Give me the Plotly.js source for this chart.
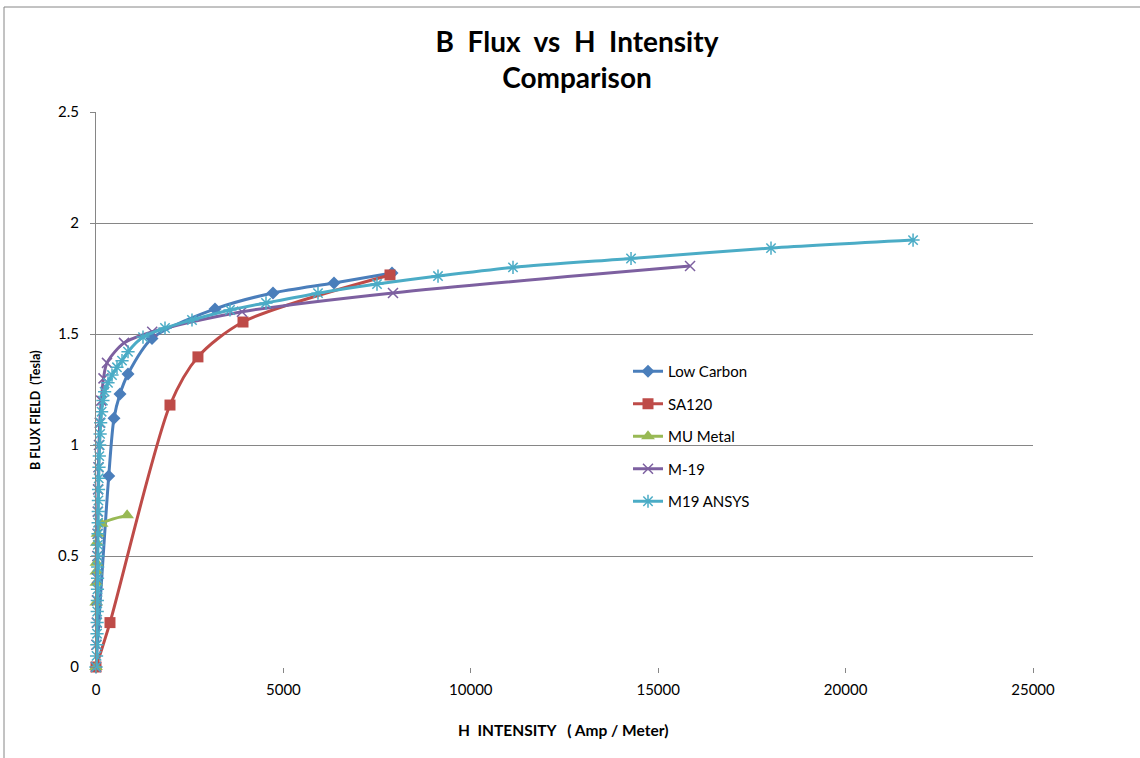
<!DOCTYPE html>
<html>
<head>
<meta charset="utf-8">
<script src="https://cdn.plot.ly/plotly-3.0.1.min.js"></script>
<style>html,body{margin:0;padding:0;background:#fff;}#chart{width:1140px;height:758px;}</style>
</head>
<body>
<div id="chart"></div>
<script>
// ---- Data ----
const lowCarbonH = [0, 340, 480, 640, 854, 1494, 3175, 4723, 6350, 7898];
const lowCarbonB = [0, 0.86, 1.12, 1.23, 1.32, 1.48, 1.613, 1.685, 1.73, 1.775];

const sa120H = [0, 373, 1974, 2720, 3922, 7844];
const sa120B = [0, 0.2, 1.18, 1.397, 1.554, 1.766];

const muMetalH = [0, 5, 8, 10, 12, 20, 40, 150, 830];
const muMetalB = [0, 0.29, 0.38, 0.43, 0.47, 0.56, 0.6, 0.645, 0.683];

const m19H = [0, 10, 20, 25, 30, 35, 40, 45, 55, 65, 80, 100, 140, 200, 293, 747, 1500, 3895, 7924, 15850];
const m19B = [0, 0.1, 0.2, 0.3, 0.4, 0.5, 0.6, 0.7, 0.8, 0.9, 1.0, 1.1, 1.2, 1.3, 1.37, 1.46, 1.51, 1.60, 1.685, 1.806];

const m19AnsysH = [0, 15, 22, 27, 30, 33, 36, 39, 42, 45, 48, 51, 54, 57, 60, 64, 68, 73, 80, 88, 98, 110, 125, 150, 185, 230, 320, 427, 560, 694, 854, 1254, 1841, 2561, 3575, 4536, 5923, 7497, 9125, 11126, 14275, 18010, 21800];
const m19AnsysB = [0, 0.05, 0.1, 0.15, 0.2, 0.25, 0.3, 0.35, 0.4, 0.45, 0.5, 0.55, 0.6, 0.65, 0.7, 0.75, 0.8, 0.85, 0.9, 0.95, 1.0, 1.05, 1.1, 1.15, 1.2, 1.24, 1.28, 1.315, 1.35, 1.38, 1.42, 1.486, 1.527, 1.563, 1.608, 1.64, 1.684, 1.725, 1.761, 1.80, 1.84, 1.887, 1.923];

const seriesNames = ['Low Carbon', 'SA120', 'MU Metal', 'M-19', 'M19 ANSYS'];
const yTickVals = [0, 0.5, 1, 1.5, 2, 2.5];
const yTickText = ['0', '0.5', '1', '1.5', '2', '2.5'];
const xTickVals = [0, 5000, 10000, 15000, 20000, 25000];

// ---- Layout helpers ----
const L = 96, R = 1033, T = 112, B = 667;
const px2x = p => (p - L) / (R - L);
const px2y = p => (B - p) / (B - T);
const FONT = 'Lato, "Open Sans", "Liberation Sans", sans-serif';

function trace(h, b, name, color, symbol, size, openMarker, group) {
  const marker = { symbol: symbol, size: size, color: color };
  if (openMarker) { marker.line = { color: color, width: 1.5 }; }
  else { marker.line = { width: 0 }; }
  return {
    x: h, y: b, name: name, type: 'scatter', mode: 'lines+markers',
    line: { color: color, width: 3, shape: 'spline', smoothing: 0.8 },
    marker: marker, legendgroup: group, cliponaxis: false
  };
}

const data = [
  trace(lowCarbonH, lowCarbonB, seriesNames[0], '#4A7EBB', 'diamond', 10, false, 'g1'),
  trace(sa120H, sa120B, seriesNames[1], '#BE4B48', 'square', 11, false, 'g2'),
  trace(muMetalH, muMetalB, seriesNames[2], '#98B954', 'triangle-up', 12, false, 'g3'),
  trace(m19H, m19B, seriesNames[3], '#7D60A0', 'x-thin-open', 10, true, 'g4'),
  trace(m19AnsysH, m19AnsysB, seriesNames[4], '#4BACC6', 'asterisk-open', 11, true, 'g5')
];

const layout = {
  width: 1140, height: 758,
  margin: { l: L, r: 1140 - R, t: T, b: 758 - B, pad: 0 },
  paper_bgcolor: '#ffffff', plot_bgcolor: '#ffffff',
  font: { family: FONT, size: 15, color: '#000000' },
  title: {
    text: 'B  Flux  vs  H  Intensity<br>Comparison',
    font: { family: FONT, size: 28, color: '#000000', weight: 'bold' },
    x: px2x(577), xref: 'paper', xanchor: 'center',
    y: 1 - 52 / 758, yref: 'container', yanchor: 'top'
  },
  xaxis: {
    range: [0, 25000], tickvals: xTickVals, ticktext: xTickVals.map(String),
    showgrid: false, zeroline: false, showline: false,
    ticks: 'outside', ticklen: 5, tickcolor: '#868686',
    ticklabelstandoff: 4,
    tickfont: { family: FONT, size: 15, color: '#000' }
  },
  yaxis: {
    range: [0, 2.5], tickvals: yTickVals, ticktext: yTickText,
    showgrid: true, gridcolor: '#868686', gridwidth: 1,
    zeroline: false, showline: true, linecolor: '#868686', linewidth: 1,
    ticks: 'outside', ticklen: 5, tickcolor: '#868686',
    ticklabelstandoff: 8,
    tickfont: { family: FONT, size: 15, color: '#000' }
  },
  showlegend: true,
  legend: {
    x: px2x(628), y: px2y(355), xanchor: 'left', yanchor: 'top',
    bgcolor: 'rgba(0,0,0,0)', borderwidth: 0,
    font: { family: FONT, size: 15, color: '#000' },
    traceorder: 'grouped', tracegroupgap: 10, itemwidth: 30
  },
  annotations: [{
    text: 'B FLUX FIELD  (Tesla)', textangle: -90, showarrow: false,
    xref: 'paper', yref: 'paper', x: px2x(35), y: px2y(410),
    xanchor: 'center', yanchor: 'middle',
    font: { family: FONT, size: 12.5, color: '#000', weight: 'bold' }
  }, {
    text: 'H  INTENSITY   ( Amp / Meter)', showarrow: false,
    xref: 'paper', yref: 'paper', x: px2x(563), y: px2y(730),
    xanchor: 'center', yanchor: 'middle',
    font: { family: FONT, size: 15.5, color: '#000', weight: 'bold' }
  }],
  shapes: [
    { type: 'line', xref: 'paper', yref: 'paper', x0: px2x(4), x1: px2x(1140), y0: px2y(7), y1: px2y(7), line: { color: '#868686', width: 1 } },
    { type: 'line', xref: 'paper', yref: 'paper', x0: px2x(4), x1: px2x(4), y0: px2y(7), y1: px2y(758), line: { color: '#868686', width: 1 } }
  ]
};

Plotly.newPlot('chart', data, layout, { displayModeBar: false, staticPlot: true });
</script>
</body>
</html>
